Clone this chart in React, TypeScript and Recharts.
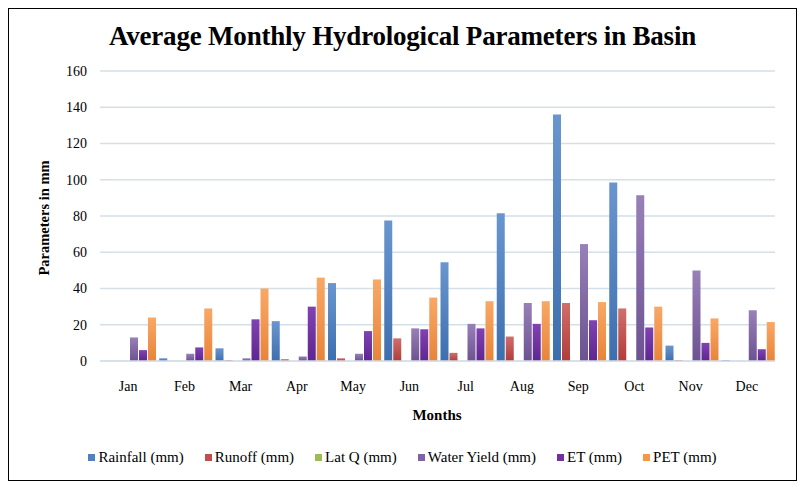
import { Bar, BarChart, CartesianGrid, Legend, XAxis, YAxis } from 'recharts'

const months = ['Jan', 'Feb', 'Mar', 'Apr', 'May', 'Jun', 'Jul', 'Aug', 'Sep', 'Oct', 'Nov', 'Dec']
const rainfall = [0, 1.5, 7, 22, 43, 77.5, 54.5, 81.5, 136, 98.5, 8.5, 0.5]
const runoff = [0, 0, 0.5, 1, 1.5, 12.5, 4.5, 13.5, 32, 29, 0.5, 0]
const latQ = [0, 0, 0, 0, 0, 0, 0, 0, 0, 0, 0, 0]
const waterYield = [13, 4, 1.5, 2.5, 4, 18, 20.5, 32, 64.5, 91.5, 50, 28]
const et = [6, 7.5, 23, 30, 16.5, 17.5, 18, 20.5, 22.5, 18.5, 10, 6.5]
const pet = [24, 29, 40, 46, 45, 35, 33, 33, 32.5, 30, 23.5, 21.5]
const yTicks = [0, 20, 40, 60, 80, 100, 120, 140, 160]

const series = [
  { key: 'rainfall', name: 'Rainfall (mm)', top: '#6a96cf', bottom: '#3d6fae', swatch: '#4f81bd' },
  { key: 'runoff', name: 'Runoff (mm)', top: '#d06f6b', bottom: '#b23c39', swatch: '#c0504d' },
  { key: 'latQ', name: 'Lat Q (mm)', top: '#b0cd78', bottom: '#86a646', swatch: '#9bbb59' },
  { key: 'waterYield', name: 'Water Yield (mm)', top: '#9880b8', bottom: '#6d5291', swatch: '#8064a2' },
  { key: 'et', name: 'ET (mm)', top: '#8142b2', bottom: '#5f2590', swatch: '#7030a0' },
  { key: 'pet', name: 'PET (mm)', top: '#f9a866', bottom: '#e8843a', swatch: '#f79646' },
]

const data = months.map((m, i) => ({
  month: m,
  rainfall: rainfall[i],
  runoff: runoff[i],
  latQ: latQ[i],
  waterYield: waterYield[i],
  et: et[i],
  pet: pet[i],
}))

const serif = '"Liberation Serif", "Times New Roman", serif'

function LegendContent() {
  return (
    <div style={{ display: 'flex', justifyContent: 'center', gap: 21, fontFamily: serif, fontSize: 15, color: '#000' }}>
      {series.map((s) => (
        <div key={s.key} style={{ display: 'flex', alignItems: 'center' }}>
          <span style={{ width: 7, height: 7, background: s.swatch, display: 'inline-block', marginRight: 3 }} />
          <span>{s.name}</span>
        </div>
      ))}
    </div>
  )
}

export default function App() {
  return (
    <div
      style={{
        position: 'relative',
        width: 787,
        height: 471,
        border: '1px solid #000',
        background: '#fff',
        fontFamily: serif,
      }}
    >
      <div
        style={{
          position: 'absolute',
          top: 12,
          left: 0,
          width: 787,
          textAlign: 'center',
          fontWeight: 'bold',
          fontSize: 27,
          letterSpacing: -0.2,
        }}
      >
        Average Monthly Hydrological Parameters in Basin
      </div>
      <div
        style={{
          position: 'absolute',
          left: 35,
          top: 209,
          transform: 'translate(-50%, -50%) rotate(-90deg)',
          fontWeight: 'bold',
          fontSize: 14.5,
          whiteSpace: 'nowrap',
        }}
      >
        Parameters in mm
      </div>
      <div
        style={{
          position: 'absolute',
          left: 428,
          top: 398,
          transform: 'translateX(-50%)',
          fontWeight: 'bold',
          fontSize: 15,
        }}
      >
        Months
      </div>
      <BarChart
        width={787}
        height={471}
        data={data}
        margin={{ top: 62, right: 21, left: 0, bottom: 0 }}
        barCategoryGap={3}
        barGap={1}
        style={{ fontFamily: serif }}
      >
        <defs>
          {series.map((s) => (
            <linearGradient key={s.key} id={`g-${s.key}`} x1="0" y1="0" x2="0" y2="1">
              <stop offset="0%" stopColor={s.top} />
              <stop offset="100%" stopColor={s.bottom} />
            </linearGradient>
          ))}
        </defs>
        <CartesianGrid vertical={false} stroke="#d5dfe8" strokeWidth={1.5} />
        <XAxis
          dataKey="month"
          axisLine={{ stroke: '#d5dfe8', strokeWidth: 1.5 }}
          tickLine={false}
          tick={{ fontFamily: serif, fontSize: 14, fill: '#000', style: { fontFamily: serif } }}
          tickMargin={14}
          height={102}
        />
        <YAxis
          domain={[0, 160]}
          ticks={yTicks}
          width={91}
          axisLine={false}
          tickLine={false}
          tickMargin={7}
          tick={{ fontFamily: serif, fontSize: 14, fill: '#000', style: { fontFamily: serif } }}
        />
        <Legend
          verticalAlign="bottom"
          wrapperStyle={{ bottom: 14, left: 0, width: 787 }}
          content={() => <LegendContent />}
        />
        {series.map((s) => (
          <Bar key={s.key} dataKey={s.key} name={s.name} fill={`url(#g-${s.key})`} isAnimationActive={false} />
        ))}
      </BarChart>
    </div>
  )
}
